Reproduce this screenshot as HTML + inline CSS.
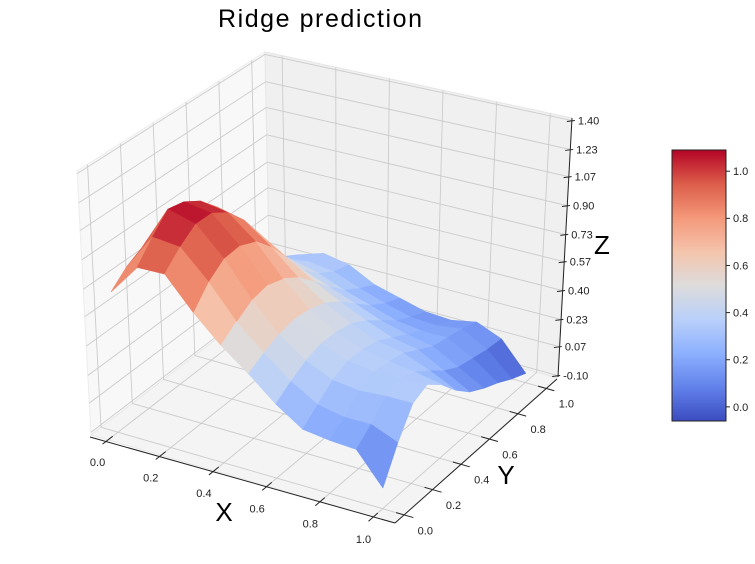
<!DOCTYPE html>
<html><head><meta charset="utf-8"><style>
html,body{margin:0;padding:0;background:#fff;}
svg{display:block;font-family:"Liberation Sans","DejaVu Sans",sans-serif;}
</style></head><body>
<svg id="chart" width="755" height="564" viewBox="0 0 755 564" xmlns="http://www.w3.org/2000/svg">
<text x="320" y="27" font-size="25" text-anchor="middle" textLength="204" fill="#000">Ridge prediction</text>
<g id="panes"></g>
<g id="grid"></g>
<g id="axes"></g>
<g id="surface"></g>
<g id="cbar"></g>
<text x="224" y="521" font-size="26" text-anchor="middle">X</text>
<text x="506" y="484" font-size="26" text-anchor="middle">Y</text>
<text x="602" y="254" font-size="26" text-anchor="middle">Z</text>
</svg>
<script>
// ---- data ----
const xVals = [0,0.1,0.2,0.3,0.4,0.5,0.6,0.7,0.8,0.9,1.0];
const yVals = [0,0.1,0.2,0.3,0.4,0.5,0.6,0.7,0.8,0.9,1.0];
// zGrid rows = y, columns = x
const zRow0  = [0.70,0.88,0.88,0.70,0.55,0.43,0.30,0.20,0.18,0.17,0.00];
const zRow1  = [0.78,0.99,0.97,0.81,0.62,0.48,0.36,0.27,0.24,0.24,0.18];
const zRow2  = [0.83,1.09,1.04,0.88,0.68,0.52,0.41,0.34,0.32,0.33,0.33];
const zRow3  = [0.84,1.07,1.04,0.89,0.70,0.54,0.44,0.38,0.36,0.36,0.37];
const zRow4  = [0.82,1.01,0.98,0.85,0.67,0.53,0.44,0.38,0.35,0.33,0.30];
const zRow5  = [0.75,0.91,0.87,0.75,0.61,0.50,0.42,0.36,0.33,0.27,0.20];
const zRow6  = [0.63,0.75,0.72,0.62,0.52,0.44,0.37,0.31,0.28,0.20,0.12];
const zRow7  = [0.48,0.57,0.55,0.48,0.42,0.36,0.30,0.26,0.23,0.15,0.07];
const zRow8  = [0.36,0.43,0.43,0.39,0.33,0.28,0.23,0.21,0.21,0.13,0.03];
const zRow9  = [0.27,0.33,0.35,0.33,0.27,0.22,0.18,0.17,0.19,0.11,-0.02];
const zRow10 = [0.22,0.28,0.33,0.30,0.22,0.18,0.14,0.13,0.16,0.10,-0.06];
const xTicks = [0.0,0.2,0.4,0.6,0.8,1.0];
const yTicks = [0.0,0.2,0.4,0.6,0.8,1.0];
const zTicks = [-0.10,0.07,0.23,0.40,0.57,0.73,0.90,1.07,1.23,1.40];
const zTickLabels = ["-0.10","0.07","0.23","0.40","0.57","0.73","0.90","1.07","1.23","1.40"];
const cbTicks = [0.0,0.2,0.4,0.6,0.8,1.0];

const zGrid = [zRow0,zRow1,zRow2,zRow3,zRow4,zRow5,zRow6,zRow7,zRow8,zRow9,zRow10];
const NS='http://www.w3.org/2000/svg';
function mk(tag, attrs, parent){const e=document.createElementNS(NS,tag);for(const k in attrs)e.setAttribute(k,attrs[k]);parent.appendChild(e);return e;}

const XMIN=-0.064,XMAX=1.081,YMIN=-0.064,YMAX=1.081,ZMIN=-0.115,ZMAX=1.415;
const C={
 '000':[91,435],'100':[395,523],'110':[557,378],'010':[270,298],
 '001':[77,171],'101':[399,242],'111':[572,118],'011':[265,52]};
function lerp(a,b,t){return [a[0]+(b[0]-a[0])*t,a[1]+(b[1]-a[1])*t];}
function projUVW(u,v,w){
  const b0=lerp(lerp(C['000'],C['100'],u),lerp(C['010'],C['110'],u),v);
  const b1=lerp(lerp(C['001'],C['101'],u),lerp(C['011'],C['111'],u),v);
  return lerp(b0,b1,w);
}
function U(x){return (x-XMIN)/(XMAX-XMIN);}
function V(y){return (y-YMIN)/(YMAX-YMIN);}
function W(z){return (z-ZMIN)/(ZMAX-ZMIN);}
function P(x,y,z){return projUVW(U(x),V(y),W(z));}
function pts(a){return a.map(p=>p[0].toFixed(1)+','+p[1].toFixed(1)).join(' ');}

const panes=document.getElementById('panes');
let e;
e=mk('polygon',{points:pts([C['000'],C['010'],C['011'],C['001']]),fill:'#f8f8f8',stroke:'#ececec','stroke-width':1},panes);


e=mk('polygon',{points:pts([C['010'],C['110'],C['111'],C['011']]),fill:'#f0f0f0',stroke:'#e6e6e6','stroke-width':1},panes);


e=mk('polygon',{points:pts([C['000'],C['100'],C['110'],C['010']]),fill:'#f4f4f4',stroke:'#e8e8e8','stroke-width':1},panes);



const grid=document.getElementById('grid');
const GC='#cbcbcb';
function gl(a,b,name){const l=mk('line',{x1:a[0],y1:a[1],x2:b[0],y2:b[1],stroke:GC,'stroke-width':0.9},grid);

}
xTicks.forEach(t=>{gl(P(t,YMIN,ZMIN),P(t,YMAX,ZMIN),'x-gridline-floor');gl(P(t,YMAX,ZMIN),P(t,YMAX,ZMAX),'x-gridline-back');});
yTicks.forEach(t=>{gl(P(XMIN,t,ZMIN),P(XMAX,t,ZMIN),'y-gridline-floor');gl(P(XMIN,t,ZMIN),P(XMIN,t,ZMAX),'y-gridline-left');});
zTicks.forEach(t=>{gl(P(XMIN,YMIN,t),P(XMIN,YMAX,t),'z-gridline-left');gl(P(XMIN,YMAX,t),P(XMAX,YMAX,t),'z-gridline-back');});

const axes=document.getElementById('axes');
function al(a,b,name,w){const l=mk('line',{x1:a[0],y1:a[1],x2:b[0],y2:b[1],stroke:'#222','stroke-width':w||1},axes);

}
function tx(x,y,s,name,anchor){const t=mk('text',{x:x,y:y,'font-size':11,'text-anchor':anchor||'middle','dominant-baseline':'middle',fill:'#222'},axes);t.textContent=s;

}
al([90,437],[395,523],'x-axis-line');
al([395,523],[557,379],'y-axis-line');
al([558,377],[572,118],'z-axis-line');
xTicks.forEach(t=>{const a=P(t,YMIN-0.035,ZMIN),b=P(t,YMIN+0.03,ZMIN);al(a,b,'x-tick');tx(a[0]-5,a[1]+19,t.toFixed(1),'x-tick-label');});
yTicks.forEach(t=>{const a=P(XMAX+0.035,t,ZMIN),b=P(XMAX-0.03,t,ZMIN);al(a,b,'y-tick');tx(a[0]+12,a[1]+14,t.toFixed(1),'y-tick-label');});
zTicks.forEach((t,i)=>{const a=P(XMAX,YMAX,t);al([a[0]-5,a[1]+1],[a[0]+3,a[1]],'z-tick');tx(a[0]+6,a[1]+1,zTickLabels[i],'z-tick-label','start');});

const cmStops=['#3b4cc0','#6282ea','#8db0fe','#b9d0f9','#dddcdc','#f5c4ac','#f4987a','#dc5d4a','#b40426'];
function hex(h){return [parseInt(h.slice(1,3),16),parseInt(h.slice(3,5),16),parseInt(h.slice(5,7),16)];}
function cmap(t){t=Math.max(0,Math.min(1,t));const s=t*8,i=Math.min(7,Math.floor(s)),f=s-i;const a=hex(cmStops[i]),b=hex(cmStops[i+1]);
return 'rgb('+a.map((c,k)=>Math.round(c+(b[k]-c)*f)).join(',')+')';}
let zmin=Infinity,zmax=-Infinity;zGrid.forEach(r=>r.forEach(z=>{zmin=Math.min(zmin,z);zmax=Math.max(zmax,z);}));

const surf=document.getElementById('surface');
const quads=[];
for(let j=0;j<yVals.length-1;j++)for(let i=0;i<xVals.length-1;i++){
  const c=[[i,j],[i+1,j],[i+1,j+1],[i,j+1]];
  const zs=c.map(([a,b])=>zGrid[b][a]);
  const zm=zs.reduce((s,v)=>s+v,0)/4;
  const xm=(xVals[i]+xVals[i+1])/2, ym=(yVals[j]+yVals[j+1])/2;
  const key=0.433*U(xm)-0.75*V(ym)+0.5*0.75*W(zm);
  quads.push({c,zm,key});
}
quads.sort((a,b)=>a.key-b.key);
quads.forEach(q=>{
  const p=q.c.map(([a,b])=>P(xVals[a],yVals[b],zGrid[b][a]));
  const col=cmap((q.zm-zmin)/(zmax-zmin));
  const f=mk('polygon',{points:pts(p),fill:col,stroke:col,'stroke-width':0.8,'stroke-linejoin':'round'},surf);
  
  
});

const cb=document.getElementById('cbar');
const CBX=672,CBW=54,CBT=150,CBB=421;
const defs=mk('defs',{},cb);
const lg=mk('linearGradient',{id:'cwgrad',x1:0,y1:1,x2:0,y2:0},defs);
cmStops.forEach((c,i)=>mk('stop',{offset:(i/8),'stop-color':c},lg));
e=mk('rect',{x:CBX,y:CBT,width:CBW,height:CBB-CBT,fill:'url(#cwgrad)',stroke:'#222','stroke-width':1},cb);


function cbY(v){return CBB-(v-zmin)/(zmax-zmin)*(CBB-CBT);}
cbTicks.forEach(t=>{const y=cbY(t);
 const l=mk('line',{x1:CBX+CBW,y1:y,x2:CBX+CBW+4,y2:y,stroke:'#222','stroke-width':1},cb);
 
 
 const s=mk('text',{x:CBX+CBW+7,y:y+1,'font-size':11,'dominant-baseline':'middle',fill:'#222'},cb);s.textContent=t.toFixed(1);
 
 
});
</script>
</body></html>
